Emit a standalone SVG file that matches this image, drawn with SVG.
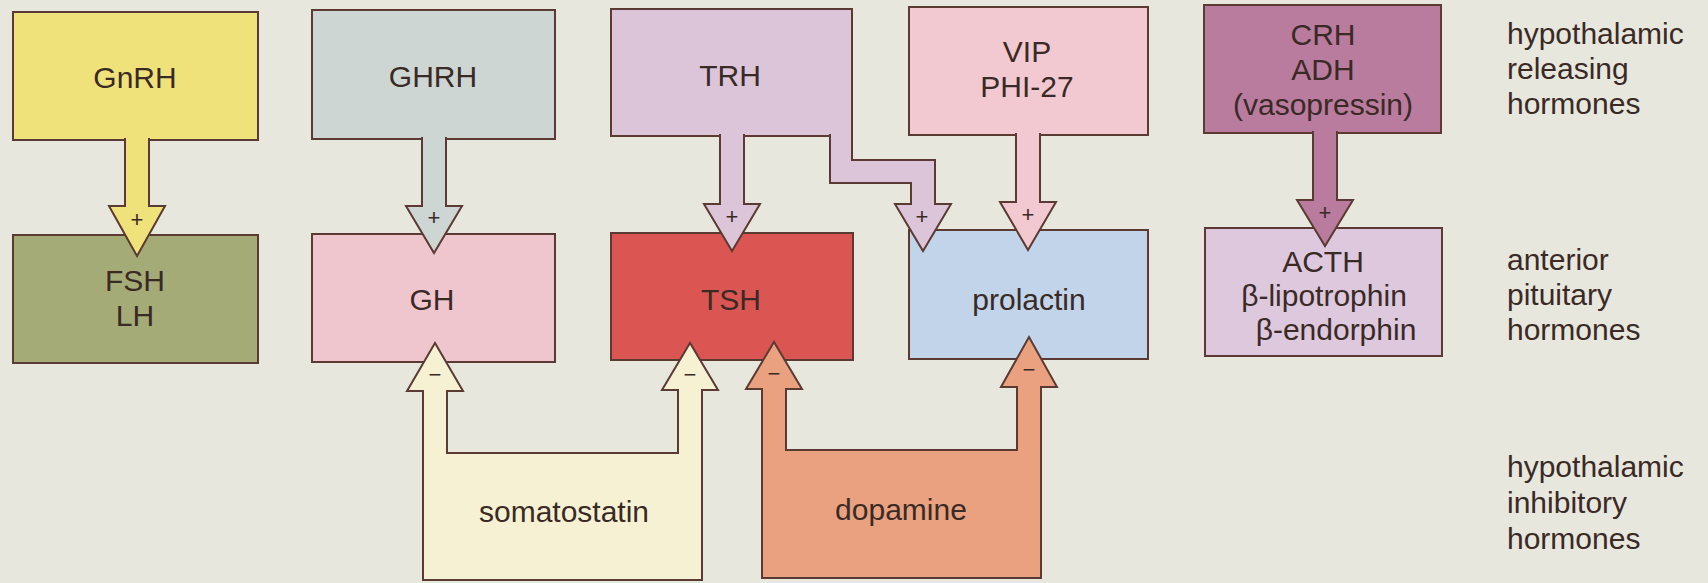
<svg xmlns="http://www.w3.org/2000/svg" width="1708" height="583" viewBox="0 0 1708 583">
<defs>
<style>
.bx{stroke:#5a3a32;stroke-width:2}
.ol{stroke:#5a3a32;stroke-width:2;stroke-linejoin:miter;stroke-linecap:square}
.t{font-family:"Liberation Sans",Arial,Helvetica,sans-serif;font-size:30px;fill:#3a2a26;text-anchor:middle}
.lb{font-family:"Liberation Sans",Arial,Helvetica,sans-serif;font-size:30px;fill:#3a2a26}
.sg{font-family:"Liberation Sans",Arial,Helvetica,sans-serif;font-size:22px;fill:#3a2a26;text-anchor:middle}
</style>
</defs>
<rect width="1708" height="583" fill="#e8e7dd"/>

<g id="gnrh"><rect class="bx" x="13" y="12" width="245" height="128" fill="#f0e27b"/><text class="t" x="135" y="88">GnRH</text></g>
<g id="fsh-lh"><rect class="bx" x="13" y="235" width="245" height="128" fill="#a5ab77"/><text class="t" x="135" y="291">FSH</text><text class="t" x="135" y="326">LH</text></g>
<g id="ghrh"><rect class="bx" x="312" y="10" width="243" height="129" fill="#cdd6d3"/><text class="t" x="433" y="87">GHRH</text></g>
<g id="gh"><rect class="bx" x="312" y="234" width="243" height="128" fill="#efc6ce"/><text class="t" x="432" y="310">GH</text></g>
<g id="trh"><rect class="bx" x="611" y="9" width="241" height="127" fill="#dcc5d9"/><text class="t" x="730" y="86">TRH</text></g>
<g id="tsh"><rect class="bx" x="611" y="233" width="242" height="127" fill="#db5652"/><text class="t" x="731" y="310">TSH</text></g>
<g id="vip"><rect class="bx" x="909" y="7" width="239" height="128" fill="#f3c9d1"/><text class="t" x="1027" y="62">VIP</text><text class="t" x="1027" y="97">PHI-27</text></g>
<g id="prolactin"><rect class="bx" x="909" y="230" width="239" height="129" fill="#c1d4e9"/><text class="t" x="1029" y="310">prolactin</text></g>
<g id="crh"><rect class="bx" x="1204" y="5" width="237" height="128" fill="#b97c9e"/><text class="t" x="1323" y="45">CRH</text><text class="t" x="1323" y="80">ADH</text><text class="t" x="1323" y="115">(vasopressin)</text></g>
<g id="acth"><rect class="bx" x="1205" y="228" width="237" height="128" fill="#ddc8dd"/><text class="t" x="1323" y="272">ACTH</text><text class="t" x="1324" y="306">β-lipotrophin</text><text class="t" x="1336" y="340">β-endorphin</text></g>

<g id="somatostatin">
<rect x="423" y="453" width="279" height="127" fill="#f7f1d4"/>
<path class="ol" fill="none" d="M447,453 H678 M702,453 V580 H423 V453"/>
<text class="t" x="564" y="522">somatostatin</text>
</g>
<g id="dopamine">
<rect x="762" y="450" width="279" height="128" fill="#e9a180"/>
<path class="ol" fill="none" d="M786,450 H1017 M1041,450 V578 H762 V450"/>
<text class="t" x="901" y="520">dopamine</text>
</g>

<g id="connectors">
<path class="ol" fill="#f0e27b" d="M125,139 V206 H109 L137,256 L165,206 H149 V139"/>
<path class="ol" fill="#cdd6d3" d="M422,138 V206 H406 L434,253 L462,206 H446 V138"/>
<path class="ol" fill="#dcc5d9" d="M720,135 V204 H704 L732,251 L760,204 H744 V135"/>
<path class="ol" fill="#dcc5d9" d="M830,135 V183 H911 V204 H895 L923,251 L951,204 H935 V160 H852 V135"/>
<path class="ol" fill="#f3c9d1" d="M1016,134 V202 H1000 L1028,250 L1056,202 H1040 V134"/>
<path class="ol" fill="#b97c9e" d="M1313,132 V200 H1297 L1325,246 L1353,200 H1337 V132"/>
<path class="ol" fill="#f7f1d4" d="M423,453 V391 H407 L435,343 L463,391 H447 V453"/>
<path class="ol" fill="#f7f1d4" d="M678,453 V390 H662 L690,343 L718,390 H702 V453"/>
<path class="ol" fill="#e9a180" d="M762,450 V389 H746 L774,342 L802,389 H786 V450"/>
<path class="ol" fill="#e9a180" d="M1017,450 V387 H1001 L1029,337 L1057,387 H1041 V450"/>
<text class="sg" x="137" y="227">+</text>
<text class="sg" x="434" y="225">+</text>
<text class="sg" x="732" y="224">+</text>
<text class="sg" x="922" y="224">+</text>
<text class="sg" x="1028" y="222">+</text>
<text class="sg" x="1325" y="220">+</text>
<text class="sg" x="435" y="382">−</text>
<text class="sg" x="690" y="382">−</text>
<text class="sg" x="774" y="381">−</text>
<text class="sg" x="1029" y="377">−</text>
</g>

<g id="labels">
<text class="lb" x="1507" y="44">hypothalamic</text>
<text class="lb" x="1507" y="79">releasing</text>
<text class="lb" x="1507" y="114">hormones</text>
<text class="lb" x="1507" y="270">anterior</text>
<text class="lb" x="1507" y="305">pituitary</text>
<text class="lb" x="1507" y="340">hormones</text>
<text class="lb" x="1507" y="477">hypothalamic</text>
<text class="lb" x="1507" y="513">inhibitory</text>
<text class="lb" x="1507" y="549">hormones</text>
</g>
</svg>
